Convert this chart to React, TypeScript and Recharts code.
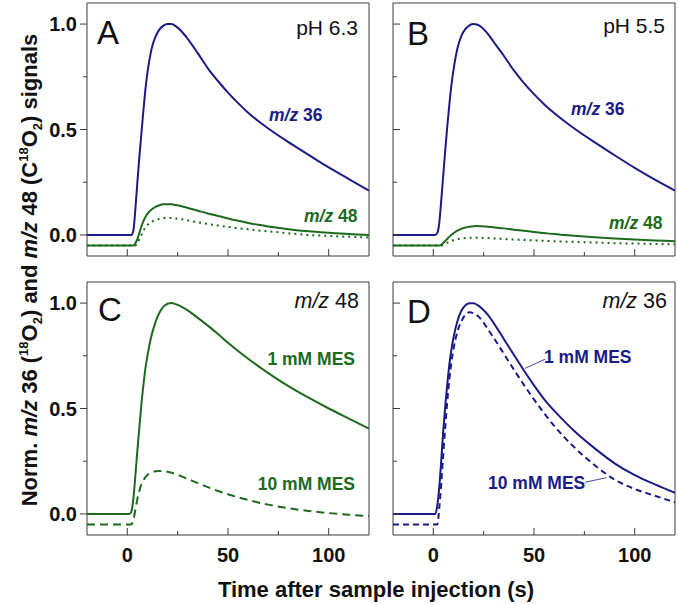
import React from 'react';
import { LineChart, Line, XAxis, YAxis, ReferenceArea, ReferenceLine } from 'recharts';

// time grid (s) shared by all traces
const TIME = [-20, 1, 2, 3, 4, 5, 6, 7, 8, 9, 10, 12, 14, 16, 18, 20, 22, 24, 27, 30, 35, 40, 45, 50, 55, 60, 65, 70, 80, 90, 100, 110, 120];

// panel A, pH 6.3
const A_M36 = [0, 0, 0, 0.02, 0.12, 0.25, 0.37, 0.48, 0.59, 0.69, 0.77, 0.88, 0.94, 0.975, 0.993, 1.0, 1.0, 0.99, 0.965, 0.93, 0.862, 0.79, 0.73, 0.675, 0.625, 0.58, 0.54, 0.505, 0.44, 0.38, 0.32, 0.265, 0.21];
const A_M48 = [-0.05, -0.05, -0.05, -0.05, -0.04, -0.02, 0.01, 0.04, 0.065, 0.085, 0.1, 0.12, 0.133, 0.141, 0.145, 0.146, 0.145, 0.142, 0.136, 0.128, 0.115, 0.102, 0.09, 0.078, 0.067, 0.057, 0.048, 0.04, 0.027, 0.017, 0.01, 0.004, 0.0];
const A_M48_DOT = [-0.05, -0.05, -0.05, -0.05, -0.05, -0.04, -0.02, 0.0, 0.02, 0.035, 0.047, 0.062, 0.071, 0.076, 0.079, 0.08, 0.08, 0.078, 0.074, 0.069, 0.06, 0.052, 0.045, 0.038, 0.032, 0.027, 0.021, 0.017, 0.008, 0.0, -0.005, -0.009, -0.012];

// panel B, pH 5.5
const B_M36 = [0, 0, 0.01, 0.06, 0.17, 0.29, 0.41, 0.52, 0.62, 0.71, 0.78, 0.885, 0.945, 0.977, 0.994, 1.0, 0.997, 0.985, 0.955, 0.915, 0.85, 0.78, 0.72, 0.668, 0.62, 0.578, 0.54, 0.505, 0.44, 0.378, 0.318, 0.262, 0.21];
const B_M48 = [-0.05, -0.05, -0.05, -0.05, -0.046, -0.038, -0.028, -0.018, -0.008, 0.0, 0.008, 0.02, 0.029, 0.035, 0.039, 0.041, 0.042, 0.041, 0.039, 0.036, 0.031, 0.025, 0.02, 0.014, 0.009, 0.004, 0.0, -0.004, -0.011, -0.017, -0.022, -0.026, -0.03];
const B_M48_DOT = [-0.05, -0.05, -0.05, -0.05, -0.05, -0.047, -0.042, -0.037, -0.032, -0.028, -0.025, -0.02, -0.017, -0.015, -0.014, -0.013, -0.013, -0.014, -0.015, -0.017, -0.019, -0.022, -0.024, -0.026, -0.028, -0.03, -0.032, -0.033, -0.036, -0.039, -0.041, -0.043, -0.045];

// panel C, m/z 48
const C_1MM = [0, 0, 0.01, 0.07, 0.18, 0.3, 0.41, 0.52, 0.61, 0.69, 0.75, 0.845, 0.91, 0.955, 0.983, 0.997, 1.0, 0.995, 0.982, 0.965, 0.93, 0.893, 0.853, 0.812, 0.773, 0.736, 0.701, 0.668, 0.606, 0.551, 0.5, 0.452, 0.405];
const C_10MM = [-0.05, -0.05, -0.05, -0.03, 0.02, 0.07, 0.11, 0.14, 0.16, 0.175, 0.185, 0.196, 0.202, 0.204, 0.204, 0.2, 0.195, 0.189, 0.178, 0.166, 0.146, 0.127, 0.109, 0.093, 0.079, 0.066, 0.054, 0.044, 0.027, 0.014, 0.004, -0.004, -0.01];

// panel D, m/z 36
const D_1MM = [0, 0, 0.04, 0.13, 0.26, 0.4, 0.52, 0.62, 0.71, 0.78, 0.835, 0.915, 0.965, 0.99, 0.999, 0.999, 0.99, 0.975, 0.945, 0.905, 0.83, 0.755, 0.68, 0.61, 0.545, 0.49, 0.44, 0.393, 0.312, 0.24, 0.184, 0.14, 0.1];
const D_10MM = [-0.05, -0.05, -0.05, 0.03, 0.15, 0.29, 0.42, 0.54, 0.64, 0.72, 0.78, 0.865, 0.915, 0.945, 0.957, 0.952, 0.94, 0.92, 0.878, 0.835, 0.76, 0.685, 0.612, 0.543, 0.478, 0.418, 0.364, 0.316, 0.232, 0.163, 0.118, 0.086, 0.055];

const X_TICKS = [0, 25, 50, 75, 100];
const Y_TICKS = [0, 0.25, 0.5, 0.75, 1];
const X_LABELS = [0, 50, 100];
const Y_LABELS = [0, 0.5, 1];

const BLUE = '#1b1b87';
const GREEN = '#1d6a1d';
const FRAME = '#3a3a3a';
const INK = '#111';
const FONT = 'Arial, "Liberation Sans", Helvetica, sans-serif';

const PLOT_W = 282;
const PLOT_H = 253;
const ML = 70;
const MT = 10;
const MR = 10;
const MB = 40;

const rowsA = TIME.map((t, i) => ({ t, m36: A_M36[i], m48: A_M48[i], m48dot: A_M48_DOT[i] }));
const rowsB = TIME.map((t, i) => ({ t, m36: B_M36[i], m48: B_M48[i], m48dot: B_M48_DOT[i] }));
const rowsC = TIME.map((t, i) => ({ t, mes1: C_1MM[i], mes10: C_10MM[i] }));
const rowsD = TIME.map((t, i) => ({ t, mes1: D_1MM[i], mes10: D_10MM[i] }));

const XTick = ({ x, y, payload, showLabel }: any) => {
  const v = payload.value;
  const major = X_LABELS.includes(v);
  return (
    <g>
      <line x1={x} x2={x} y1={y} y2={y - (major ? 7 : 4)} stroke={FRAME} strokeWidth={1} />
      {showLabel && major && (
        <text x={x} y={y + 27} textAnchor="middle" fontSize={20} fontWeight="bold" fill={INK} fontFamily={FONT}>
          {v}
        </text>
      )}
    </g>
  );
};

const YTick = ({ x, y, payload, showLabel, outward }: any) => {
  const v = payload.value;
  const major = Y_LABELS.includes(v);
  const len = major ? 7 : 4;
  return (
    <g>
      <line x1={x} x2={outward ? x - len : x + len} y1={y} y2={y} stroke={FRAME} strokeWidth={1} />
      {showLabel && major && (
        <text x={x - 10} y={y + 7} textAnchor="end" fontSize={20} fontWeight="bold" fill={INK} fontFamily={FONT}>
          {v.toFixed(1)}
        </text>
      )}
    </g>
  );
};

interface Series {
  key: string;
  color: string;
  dash?: string;
}

interface PanelProps {
  left: number;
  top: number;
  rows: any[];
  series: Series[];
  bottom: boolean;
  leftSide: boolean;
  children?: React.ReactNode;
}

const Panel = ({ left, top, rows, series, bottom, leftSide, children }: PanelProps) => (
  <div style={{ position: 'absolute', left: left - ML, top: top - MT }}>
    <LineChart
      width={PLOT_W + ML + MR}
      height={PLOT_H + MT + MB}
      data={rows}
      margin={{ top: MT, right: MR, bottom: 0, left: 0 }}
    >
      <XAxis
        dataKey="t"
        type="number"
        domain={[-20, 120]}
        ticks={X_TICKS}
        interval={0}
        allowDataOverflow
        axisLine={false}
        tickLine={false}
        tickSize={0}
        tickMargin={0}
        height={MB}
        tick={(p: any) => <XTick {...p} showLabel={bottom} />}
      />
      <YAxis
        type="number"
        domain={[-0.1, 1.1]}
        ticks={Y_TICKS}
        interval={0}
        allowDataOverflow
        axisLine={false}
        tickLine={false}
        tickSize={0}
        tickMargin={0}
        width={ML}
        tick={(p: any) => <YTick {...p} showLabel={leftSide} outward={leftSide} />}
      />
      <ReferenceArea x1={-20} x2={120} y1={-0.1} y2={1.1} fill="none" stroke={FRAME} strokeWidth={1} />
      {series.map((s) => (
        <Line
          key={s.key}
          dataKey={s.key}
          type="monotone"
          stroke={s.color}
          strokeWidth={2}
          strokeDasharray={s.dash}
          dot={false}
          activeDot={false}
          isAnimationActive={false}
        />
      ))}
      {children}
    </LineChart>
  </div>
);

const MZ = ({ children }: { children: React.ReactNode }) => (
  <>
    <tspan fontStyle="italic">m/z</tspan>
    <tspan>{children}</tspan>
  </>
);

export default function App() {
  return (
    <div style={{ position: 'absolute', left: 0, top: 0, width: 678, height: 604, background: '#fff', fontFamily: FONT }}>
      <Panel
        left={87}
        top={3}
        rows={rowsA}
        bottom={false}
        leftSide
        series={[
          { key: 'm48dot', color: GREEN, dash: '2 4' },
          { key: 'm48', color: GREEN },
          { key: 'm36', color: BLUE },
        ]}
      />
      <Panel
        left={393}
        top={3}
        rows={rowsB}
        bottom={false}
        leftSide={false}
        series={[
          { key: 'm48dot', color: GREEN, dash: '2 4' },
          { key: 'm48', color: GREEN },
          { key: 'm36', color: BLUE },
        ]}
      />
      <Panel
        left={87}
        top={282}
        rows={rowsC}
        bottom
        leftSide
        series={[
          { key: 'mes10', color: GREEN, dash: '8 5' },
          { key: 'mes1', color: GREEN },
        ]}
      />
      <Panel
        left={393}
        top={282}
        rows={rowsD}
        bottom
        leftSide={false}
        series={[
          { key: 'mes10', color: BLUE, dash: '6 4' },
          { key: 'mes1', color: BLUE },
        ]}
      >
        <ReferenceLine segment={[{ x: 55.5, y: 0.734 }, { x: 45.5, y: 0.69 }]} stroke={BLUE} strokeWidth={0.8} />
        <ReferenceLine segment={[{ x: 75.3, y: 0.15 }, { x: 86, y: 0.172 }]} stroke={BLUE} strokeWidth={0.8} />
      </Panel>

      <svg
        width={678}
        height={604}
        style={{ position: 'absolute', left: 0, top: 0, pointerEvents: 'none' }}
        fontFamily={FONT}
      >
        <text x={97} y={44} fontSize={33} fill={INK}>A</text>
        <text x={407} y={45} fontSize={33} fill={INK}>B</text>
        <text x={98} y={321} fontSize={33} fill={INK}>C</text>
        <text x={407} y={323} fontSize={33} fill={INK}>D</text>

        <text x={358} y={35} fontSize={21} textAnchor="end" fill={INK}>pH 6.3</text>
        <text x={665} y={33} fontSize={21} textAnchor="end" fill={INK}>pH 5.5</text>
        <text x={359} y={308} fontSize={21.5} textAnchor="end" fill={INK}><MZ> 48</MZ></text>
        <text x={667} y={308} fontSize={21.5} textAnchor="end" fill={INK}><MZ> 36</MZ></text>

        <g fontSize={17.5} fontWeight="bold">
          <text x={269} y={121} fill={BLUE}><MZ> 36</MZ></text>
          <text x={571} y={115} fill={BLUE}><MZ> 36</MZ></text>
          <text x={304} y={222} fill={GREEN}><MZ> 48</MZ></text>
          <text x={609} y={229} fill={GREEN}><MZ> 48</MZ></text>
          <text x={355} y={365} textAnchor="end" fill={GREEN}>1 mM MES</text>
          <text x={355} y={490} textAnchor="end" fill={GREEN}>10 mM MES</text>
          <text x={544} y={363} fill={BLUE}>1 mM MES</text>
          <text x={488} y={489} fill={BLUE}>10 mM MES</text>
        </g>

        <text x={376} y={597} fontSize={22} fontWeight="bold" textAnchor="middle" fill={INK}>
          Time after sample injection (s)
        </text>
        <text
          transform="translate(37,270) rotate(-90)"
          fontSize={22}
          fontWeight="bold"
          textAnchor="middle"
          fill={INK}
        >
          <tspan>Norm. </tspan>
          <tspan fontStyle="italic">m/z</tspan>
          <tspan> 36 (</tspan>
          <tspan fontSize={13} dy={-9}>18</tspan>
          <tspan dy={9}>O</tspan>
          <tspan fontSize={13} dy={5}>2</tspan>
          <tspan dy={-5}>) and </tspan>
          <tspan fontStyle="italic">m/z</tspan>
          <tspan> 48 (C</tspan>
          <tspan fontSize={13} dy={-9}>18</tspan>
          <tspan dy={9}>O</tspan>
          <tspan fontSize={13} dy={5}>2</tspan>
          <tspan dy={-5}>) signals</tspan>
        </text>
      </svg>
    </div>
  );
}
